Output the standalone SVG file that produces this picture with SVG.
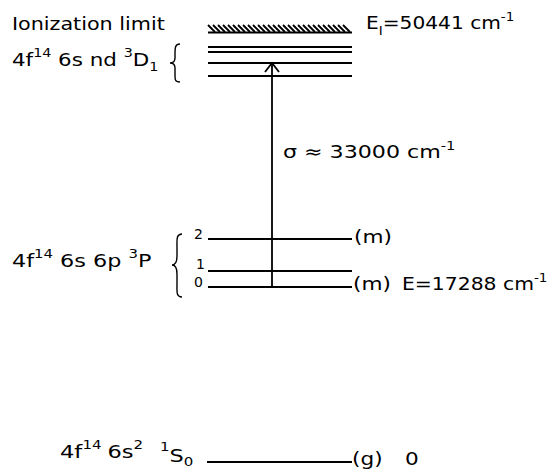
<svg xmlns="http://www.w3.org/2000/svg" width="552" height="469" viewBox="0 0 552 469">
<style>
text{font-family:"DejaVu Sans","Liberation Sans",sans-serif;font-size:18px;fill:#000}
.sup{font-size:12px}
.lbl{font-size:14px}
.lv{stroke:#000;stroke-width:1.8;fill:none}
.br{stroke:#000;stroke-width:1.4;fill:none}
</style>
<rect width="552" height="469" fill="#fff"/>
<g id="ionization">
<path class="lv" stroke-width="1" d="M208,25l7,7M213,25l7,7M218,25l7,7M223,25l7,7M228,25l7,7M233,25l7,7M238,25l7,7M243,25l7,7M248,25l7,7M253,25l7,7M258,25l7,7M263,25l7,7M268,25l7,7M273,25l7,7M278,25l7,7M283,25l7,7M288,25l7,7M293,25l7,7M298,25l7,7M303,25l7,7M308,25l7,7M313,25l7,7M318,25l7,7M323,25l7,7M328,25l7,7M333,25l7,7M338,25l7,7M343,25l7,7"/>
<line class="lv" x1="208" y1="32.5" x2="352" y2="32.5" stroke-width="2"/>
<text transform="translate(12,30) scale(1.15,1)">Ionization limit</text>
<text transform="translate(366,29) scale(1.12,1)">E<tspan class="sup" dy="6">I</tspan><tspan dy="-6">=50441 cm</tspan><tspan class="sup" dy="-8">-1</tspan></text>
</g>
<g id="nd-series">
<line class="lv" x1="208" y1="47" x2="352" y2="47"/>
<line class="lv" x1="208" y1="52" x2="352" y2="52"/>
<line class="lv" x1="208" y1="63" x2="352" y2="63"/>
<line class="lv" x1="208" y1="76" x2="352" y2="76"/>
<text transform="translate(12,66) scale(1.19,1)">4f<tspan class="sup" dy="-9">14</tspan><tspan dy="9"> 6s nd </tspan><tspan class="sup" dy="-9">3</tspan><tspan dy="9">D</tspan><tspan class="sup" dy="5">1</tspan></text>
<path class="br" d="M180,44 C175,44 175,48 175,54 L175,58 C175,62 173,63 170,63 C173,63 175,64 175,68 L175,74 C175,80 175,82 180,82"/>
</g>
<g id="p-levels">
<line class="lv" x1="208" y1="239" x2="352" y2="239"/>
<line class="lv" x1="208" y1="271" x2="352" y2="271"/>
<line class="lv" x1="208" y1="287" x2="352" y2="287"/>
<text class="lbl" x="194" y="239">2</text>
<text class="lbl" x="196" y="269">1</text>
<text class="lbl" x="194" y="287">0</text>
<text transform="translate(354,243) scale(1.2,1)">(m)</text>
<text transform="translate(353,290) scale(1.2,1)">(m)</text>
<text transform="translate(402,290) scale(1.13,1)">E=17288 cm<tspan class="sup" dy="-8">-1</tspan></text>
<text transform="translate(12,267) scale(1.24,1)">4f<tspan class="sup" dy="-9">14</tspan><tspan dy="9"> 6s 6p </tspan><tspan class="sup" dy="-9">3</tspan><tspan dy="9">P</tspan></text>
<path class="br" d="M182,234 C176,234 177,240 177,248 L177,256 C177,262 175,265 172,265 C175,265 177,268 177,274 L177,284 C177,292 176,297 182,297"/>
</g>
<g id="ground">
<line class="lv" x1="207" y1="462" x2="352" y2="462"/>
<text transform="translate(60,458) scale(1.25,1)">4f<tspan class="sup" x="18" dy="-9">14</tspan><tspan x="38" dy="9">6s</tspan><tspan class="sup" dy="-9">2</tspan><tspan class="sup" x="80" dy="2">1</tspan><tspan dy="11">S</tspan><tspan class="sup" dy="4">0</tspan></text>
<text transform="translate(352,465) scale(1.2,1)">(g)</text>
<text transform="translate(405,465) scale(1.2,1)">0</text>
</g>
<g id="connectors">
<line class="lv" x1="272" y1="287" x2="272" y2="64" stroke-width="1.5"/>
<polyline class="lv" points="265,72 272,63 279,72" stroke-width="1.8"/>
<text transform="translate(283,158) scale(1.23,1)">σ ≈ 33000 cm<tspan class="sup" dy="-8">-1</tspan></text>
</g>
</svg>
